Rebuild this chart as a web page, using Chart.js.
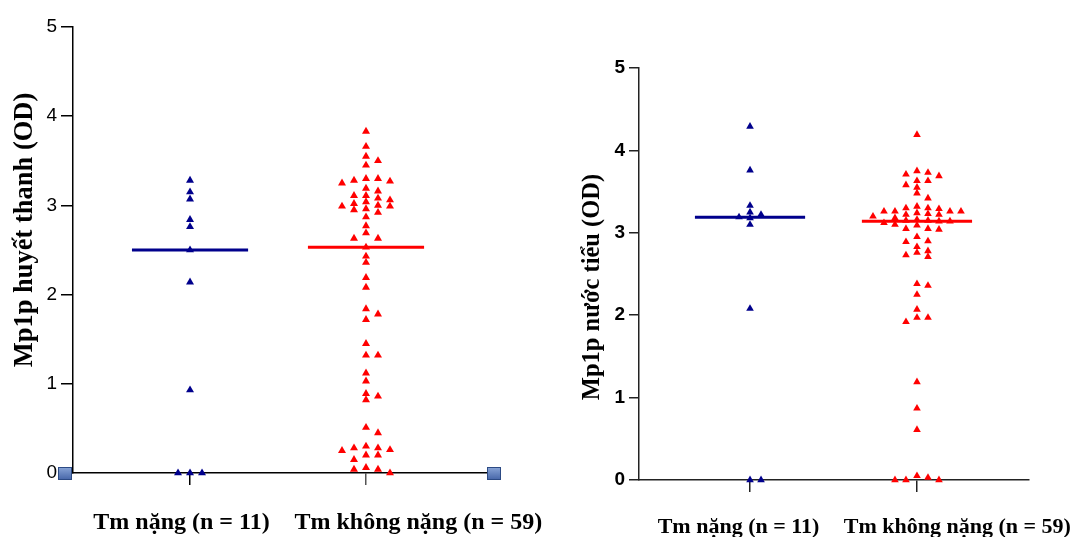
<!DOCTYPE html>
<html><head><meta charset="utf-8">
<script src="https://cdn.jsdelivr.net/npm/chart.js@4.4.0/dist/chart.umd.min.js"></script>
<style>
html,body{margin:0;padding:0;background:#fff;}
#wrap{position:relative;width:1073px;height:537px;overflow:hidden;background:#fff;}
canvas{position:absolute;top:0;}
</style></head><body>
<div id="wrap">
<canvas id="c1" width="560" height="537" style="left:0px"></canvas>
<canvas id="c2" width="533" height="537" style="left:540px"></canvas>
</div>
<script>
// ---- data ----
const categories = ['Tm nặng (n = 11)', 'Tm không nặng (n = 59)'];
const yTicks = [0, 1, 2, 3, 4, 5];
const serumTitle = 'Mp1p huyết thanh (OD)';
const urineTitle = 'Mp1p nước tiểu (OD)';

const serumSevere = [3.28, 3.15, 3.07, 2.84, 2.76, 2.50, 2.14, 0.93, 0, 0, 0];
const serumNonSevere = [3.83, 3.66, 3.55, 3.50, 3.45, 3.30, 3.30, 3.28, 3.27, 3.25,
  3.19, 3.16, 3.11, 3.11, 3.08, 3.06, 3.04, 3.02, 3.00, 2.99,
  2.99, 2.96, 2.95, 2.92, 2.87, 2.77, 2.69, 2.63, 2.63, 2.53,
  2.43, 2.36, 2.19, 2.08, 1.84, 1.78, 1.72, 1.45, 1.32, 1.32,
  1.12, 1.03, 0.89, 0.86, 0.82, 0.51, 0.45, 0.30, 0.28, 0.28,
  0.26, 0.25, 0.20, 0.20, 0.15, 0.06, 0.04, 0.04, 0.00];

const urineSevere = [4.29, 3.76, 3.33, 3.25, 3.22, 3.19, 3.18, 3.10, 2.08, 0, 0];
const urineNonSevere = [4.19, 3.75, 3.73, 3.71, 3.69, 3.63, 3.63, 3.58, 3.55, 3.48,
  3.42, 3.32, 3.30, 3.30, 3.29, 3.26, 3.26, 3.26, 3.26, 3.24,
  3.23, 3.22, 3.22, 3.20, 3.18, 3.16, 3.15, 3.15, 3.14, 3.14,
  3.12, 3.10, 3.09, 3.05, 3.05, 3.04, 2.95, 2.90, 2.89, 2.83,
  2.78, 2.76, 2.73, 2.71, 2.38, 2.36, 2.25, 2.07, 1.97, 1.97,
  1.92, 1.19, 0.87, 0.61, 0.05, 0.03, 0, 0, 0];

// ---- helpers ----
function median(arr) {
  const s = [...arr].sort((a, b) => a - b);
  const n = s.length;
  return n % 2 ? s[(n - 1) / 2] : (s[n / 2 - 1] + s[n / 2]) / 2;
}
// simple beeswarm: column index for each value so marks do not overlap
function swarmColumns(values, pxPerY, minDy) {
  const order = values.map((v, i) => i).sort((a, b) => values[b] - values[a] || a - b);
  const placed = [];
  const cols = new Array(values.length);
  for (const i of order) {
    const y = values[i] * pxPerY;
    for (let k = 0; ; k++) {
      const col = k === 0 ? 0 : (k % 2 === 1 ? (k + 1) / 2 : -k / 2);
      if (!placed.some(p => p.col === col && Math.abs(p.y - y) < minDy)) {
        placed.push({ col, y }); cols[i] = col; break;
      }
    }
  }
  return cols;
}

const textPlugin = {
  id: 'textPlugin',
  afterDraw(chart, args, o) {
    const ctx = chart.ctx;
    const xs = chart.scales.x;
    ctx.save();
    ctx.fillStyle = '#000';
    // y title
    ctx.save();
    ctx.translate(o.titleX, o.titleY);
    ctx.rotate(-Math.PI / 2);
    ctx.font = 'bold ' + o.titleSize + 'px "Liberation Serif", "Times New Roman", serif';
    ctx.textAlign = 'center';
    ctx.textBaseline = 'alphabetic';
    ctx.fillText(o.title, 0, 0);
    ctx.restore();
    // category labels
    ctx.font = 'bold ' + o.labelSize + 'px "Liberation Serif", "Times New Roman", serif';
    ctx.textAlign = 'center';
    ctx.textBaseline = 'alphabetic';
    categories.forEach((c, i) => {
      ctx.fillText(c, xs.getPixelForValue(i + 1) + o.labelShift[i], o.labelBaseline);
    });
    // handle squares
    if (o.squares) {
      const a = chart.chartArea;
      [[a.left - 8, a.bottom + 1], [a.right - 1, a.bottom + 1]].forEach(([cx, cy]) => {
        const g = ctx.createLinearGradient(0, cy - 7, 0, cy + 7);
        g.addColorStop(0, '#8aa6d8');
        g.addColorStop(1, '#3f5fa3');
        ctx.fillStyle = g;
        ctx.fillRect(cx - 7, cy - 7, 14, 13);
        ctx.strokeStyle = '#2c4a84';
        ctx.lineWidth = 1;
        ctx.strokeRect(cx - 6.5, cy - 6.5, 13, 12);
      });
    }
    ctx.restore();
  }
};

function makeChart(canvasId, severe, nonSevere, title, cfg) {
  const areaW = cfg.width - cfg.yw - cfg.padRight;
  const areaH = cfg.height - cfg.padTop - cfg.xh;
  const pxPerX = areaW / (cfg.xmax - cfg.xmin);
  const pxPerY = areaH / 5;
  const toPoints = (vals, cat) => {
    const cols = swarmColumns(vals, pxPerY, cfg.minDy);
    return vals.map((v, i) => ({ x: cat + cols[i] * cfg.step / pxPerX, y: v }));
  };
  const medLine = (vals, cat) => {
    const m = median(vals);
    return [{ x: cat - 0.33, y: m }, { x: cat + 0.33, y: m }];
  };
  const blue = '#00008c', red = '#ff0000';
  return new Chart(document.getElementById(canvasId), {
    type: 'scatter',
    data: {
      datasets: [
        { data: toPoints(severe, 1), pointStyle: 'triangle', pointRadius: cfg.r, backgroundColor: blue, borderColor: blue, borderWidth: 0, clip: false },
        { data: toPoints(nonSevere, 2), pointStyle: 'triangle', pointRadius: cfg.r, backgroundColor: red, borderColor: red, borderWidth: 0, clip: false },
        { data: medLine(severe, 1), showLine: true, borderColor: blue, borderWidth: 3, pointRadius: 0, clip: false },
        { data: medLine(nonSevere, 2), showLine: true, borderColor: red, borderWidth: 3, pointRadius: 0, clip: false }
      ]
    },
    options: {
      responsive: false, animation: false, devicePixelRatio: 1,
      layout: { padding: { top: cfg.padTop, right: cfg.padRight, left: 0, bottom: 0 } },
      plugins: {
        legend: { display: false }, tooltip: { enabled: false },
        textPlugin: cfg.text
      },
      scales: {
        x: {
          type: 'linear', min: cfg.xmin, max: cfg.xmax,
          afterBuildTicks: s => { s.ticks = categories.map((c, i) => ({ value: i + 1 })); },
          afterFit: s => { s.height = cfg.xh; },
          ticks: { callback: () => '', padding: 0 },
          grid: { drawOnChartArea: false, drawTicks: true, tickLength: 12, lineWidth: 1.5,
                  color: c => cfg.xTickColors[c.index] || '#000' },
          border: { display: true, color: cfg.axisColor, width: 1.5 }
        },
        y: {
          min: 0, max: 5,
          afterBuildTicks: s => { s.ticks = yTicks.map(v => ({ value: v })); },
          afterFit: s => { s.width = cfg.yw; },
          ticks: { color: '#000', padding: 4,
                   font: { family: '"Liberation Sans", Arial, sans-serif', size: 19, weight: cfg.tickWeight } },
          grid: { drawOnChartArea: false, drawTicks: true, tickLength: cfg.ytl, lineWidth: 1.5, color: cfg.axisColor },
          border: { display: true, color: cfg.axisColor, width: 1.5 }
        }
      }
    },
    plugins: [textPlugin]
  });
}

makeChart('c1', serumSevere, serumNonSevere, serumTitle, {
  width: 560, height: 537, yw: 73, xh: 64, padTop: 27, padRight: 65,
  xmin: 0.335, xmax: 2.733, step: 12, minDy: 5.5, r: 4.6, ytl: 12,
  tickWeight: 'normal', axisColor: '#000', xTickColors: ['#000', '#555'],
  text: { title: serumTitle, titleX: 32, titleY: 230, titleSize: 26.5,
          labelSize: 24, labelShift: [-8.5, 52.3], labelBaseline: 529, squares: true }
});

makeChart('c2', urineSevere, urineNonSevere, urineTitle, {
  width: 533, height: 537, yw: 99, xh: 57, padTop: 68, padRight: 44,
  xmin: 0.335, xmax: 2.671, step: 11, minDy: 5.3, r: 4.4, ytl: 10,
  tickWeight: 'bold', axisColor: '#222', xTickColors: ['#222', '#222'],
  text: { title: urineTitle, titleX: 59, titleY: 287, titleSize: 24.5,
          labelSize: 22, labelShift: [-11.5, 40.3], labelBaseline: 533, squares: false }
});
</script>
</body></html>
